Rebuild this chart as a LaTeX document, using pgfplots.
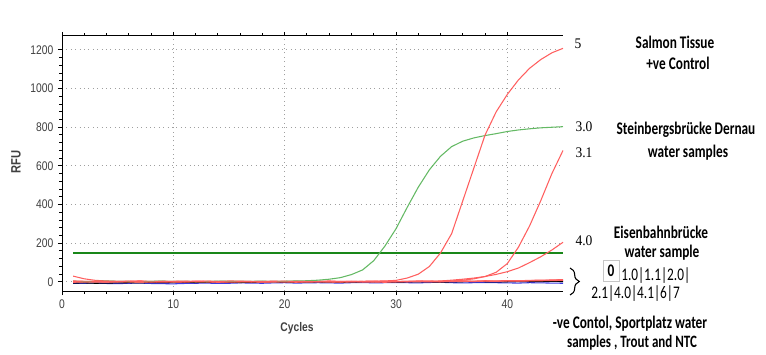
\documentclass[border=0pt]{standalone}
\usepackage{fontspec}
\usepackage{pgfplots}
\usepackage{pgfplotstable}
\pgfplotsset{compat=1.18}
\usetikzlibrary{decorations.pathreplacing}
\setmainfont{Liberation Sans}
\newfontfamily\tickfont[FakeStretch=0.82]{Liberation Sans}
\newfontfamily\annfont[FakeStretch=0.75]{Carlito}
\newfontfamily\numfont[FakeStretch=0.92]{Liberation Serif}
\definecolor{tickgray}{RGB}{64,64,64}
\definecolor{curvered}{RGB}{255,95,95}
\definecolor{curvegreen}{RGB}{100,185,100}
\definecolor{thrgreen}{RGB}{25,135,25}
\definecolor{bluel}{RGB}{60,60,225}

\pgfplotstableread{
cyc g30 r5 r31 r40 ra rb rc blk blu
1 3 2 4 1 30 5 -2 -6 -8
2 1 0 2 3 16 3 0 -5 -7
3 2 1 1 2 8 2 1 -7 -6
4 4 3 0 0 5 4 -1 -6 -8
5 3 2 2 1 3 1 2 -5 -9
6 2 4 3 2 1 3 0 -4 -7
7 1 1 1 4 4 5 -3 -5 -6
8 3 0 2 1 2 2 1 -3 -8
9 4 2 4 0 3 0 2 -4 -9
10 2 3 1 2 1 3 -1 -3 -10
11 3 1 0 3 2 4 0 -2 -8
12 1 2 2 1 4 2 3 -3 -7
13 2 4 3 0 3 1 1 -2 -6
14 4 2 1 2 1 3 -2 -1 -8
15 3 0 2 1 2 5 0 -2 -7
16 2 1 0 3 3 4 2 -3 -5
17 3 3 1 2 1 2 1 -2 -6
18 4 2 3 0 2 0 -1 -1 -7
19 2 1 2 1 4 3 0 0 -5
20 3 0 4 2 2 2 2 -1 -4
21 5 2 1 3 1 4 -2 -2 -6
22 6 3 0 1 3 1 1 -1 -5
23 9 1 2 0 2 3 3 0 -4
24 14 2 3 2 0 5 0 -1 -5
25 22 3 1 1 2 2 -1 -2 -6
26 38 2 2 3 3 0 2 -1 -4
27 62 3 0 2 1 3 1 0 -3
28 110 4 1 1 2 4 0 1 -5
29 185 5 3 2 3 2 -2 0 -4
30 275 8 2 3 2 1 1 -1 -3
31 385 20 1 2 1 3 3 0 -4
32 490 40 2 3 3 5 2 1 -5
33 580 80 3 3 4 4 0 0 -3
34 650 150 3 5 2 2 1 -1 -2
35 700 250 5 9 3 3 2 0 -4
36 728 420 9 14 4 5 3 1 -5
37 745 590 16 20 3 4 2 2 -4
38 757 760 28 28 5 6 4 1 -3
39 767 880 50 39 4 5 3 0 -4
40 778 970 95 53 6 7 5 1 -5
41 786 1045 180 72 5 6 4 2 -6
42 792 1105 290 100 7 8 5 1 -4
43 797 1150 420 130 8 9 6 2 -5
44 800 1185 560 165 9 10 7 3 -6
45 803 1208 680 205 11 12 8 2 -7
}\datatable

\begin{document}
\begin{tikzpicture}
\path[use as bounding box] (0,0) rectangle (574.5pt,265.5pt);
\begin{axis}[
  at={(46.5pt,47.25pt)}, anchor=south west,
  scale only axis, width=375.75pt, height=191.25pt,
  xmin=0, xmax=45, ymin=-47, ymax=1272,
  xtick={0,10,20,30,40}, ytick={0,200,400,600,800,1000,1200},
  minor x tick num=4, minor y tick num=4,
  axis x line*=box, axis y line*=left,
  xticklabel pos=lower,
  tick align=outside,
  major tick length=3pt, minor tick length=2pt,
  tick style={black, line width=0.75pt},
  axis line style={black, line width=0.75pt},
  xmajorgrids, ymajorgrids,
  major grid style={gray!75, line width=0.7pt, dash pattern=on 0.7pt off 2.6pt},
  /pgf/number format/assume math mode=true,
  /pgf/number format/1000 sep={},
  ticklabel style={font=\tickfont\fontsize{9.4pt}{10pt}\selectfont, text=tickgray},
  clip=false,
]
\addplot[thrgreen, line width=1.9pt] coordinates {(1,150) (45,150)};
\addplot[bluel, line width=0.8pt] table[x=cyc, y=blu] {\datatable};
\addplot[black, line width=0.8pt] table[x=cyc, y=blk] {\datatable};
\addplot[curvered, line width=0.8pt] table[x=cyc, y=rc] {\datatable};
\addplot[curvered, line width=0.8pt] table[x=cyc, y=rb] {\datatable};
\addplot[curvered, line width=0.8pt] table[x=cyc, y=ra] {\datatable};
\addplot[curvered, line width=0.8pt] table[x=cyc, y=r40] {\datatable};
\addplot[curvered, line width=0.8pt] table[x=cyc, y=r31] {\datatable};
\addplot[curvegreen, line width=0.8pt] table[x=cyc, y=g30] {\datatable};
\addplot[curvered, line width=0.8pt] table[x=cyc, y=r5] {\datatable};
\end{axis}
\begin{scope}[x=0.75pt, y=-0.75pt, shift={(0,265.5pt)}]
\node[rotate=90, text=tickgray, font=\tickfont\bfseries\fontsize{10.2pt}{11pt}\selectfont] at (16,162) {RFU};
\node[text=tickgray, font=\tickfont\bfseries\fontsize{9.4pt}{10pt}\selectfont] at (297,328) {Cycles};
\node[font=\numfont\fontsize{11pt}{12pt}\selectfont] at (578,44) {5};
\node[font=\numfont\fontsize{11pt}{12pt}\selectfont] at (584,127) {3.0};
\node[font=\numfont\fontsize{11pt}{12pt}\selectfont] at (584,153) {3.1};
\node[font=\numfont\fontsize{11pt}{12pt}\selectfont] at (584,241) {4.0};
\node[font=\annfont\bfseries\fontsize{13.3pt}{15pt}\selectfont] at (675,42) {Salmon Tissue};
\node[font=\annfont\bfseries\fontsize{13.3pt}{15pt}\selectfont] at (678,63) {+ve Control};
\node[font=\annfont\bfseries\fontsize{13.3pt}{15pt}\selectfont] at (686,130) {Steinbergsbrücke Dernau};
\node[font=\annfont\bfseries\fontsize{13.3pt}{15pt}\selectfont] at (688,153) {water samples};
\node[font=\annfont\bfseries\fontsize{13.3pt}{15pt}\selectfont] at (661,232) {Eisenbahnbrücke};
\node[font=\annfont\bfseries\fontsize{13.3pt}{15pt}\selectfont] at (662,253) {water sample};
\node[draw=gray!45, line width=0.6pt, minimum width=12pt, minimum height=15.5pt, inner sep=0pt, font=\annfont\bfseries\fontsize{13.3pt}{15pt}\selectfont] at (611,271) {0};
\node[anchor=west, inner sep=0pt, font=\annfont\fontsize{13.3pt}{15pt}\selectfont] at (621,276) {1.0|1.1|2.0|};
\node[anchor=west, inner sep=0pt, font=\annfont\fontsize{13.3pt}{15pt}\selectfont] at (591,294) {2.1|4.0|4.1|6|7};
\node[font=\annfont\bfseries\fontsize{13.3pt}{15pt}\selectfont] at (630,324) {-ve Contol, Sportplatz water};
\node[font=\annfont\bfseries\fontsize{13pt}{15pt}\selectfont] at (632,343) {samples , Trout and NTC};
\draw[line width=0.8pt, decorate, decoration={brace, amplitude=7pt}] (570,268) -- (570,295);
\end{scope}
\end{tikzpicture}
\end{document}
